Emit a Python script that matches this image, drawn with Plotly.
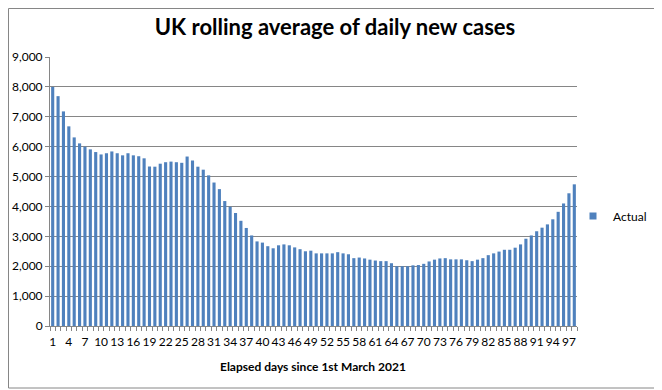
import plotly.graph_objects as go

days = list(range(1, 99))
cases = [8000, 7690, 7180, 6680, 6310, 6110, 6000, 5910, 5820, 5740,
         5780, 5840, 5780, 5710, 5780, 5710, 5680, 5610, 5340, 5330,
         5430, 5480, 5500, 5480, 5460, 5670, 5540, 5330, 5230, 5040,
         4800, 4580, 4180, 3990, 3780, 3520, 3280, 3030, 2830, 2790,
         2670, 2600, 2700, 2730, 2700, 2630, 2570, 2500, 2520, 2430,
         2430, 2430, 2430, 2470, 2430, 2400, 2270, 2290, 2260, 2220,
         2190, 2170, 2170, 2100, 2000, 2000, 2000, 2030, 2040, 2080,
         2160, 2220, 2260, 2270, 2230, 2230, 2230, 2200, 2170, 2220,
         2270, 2370, 2430, 2490, 2550, 2550, 2620, 2730, 2920, 3030,
         3170, 3290, 3400, 3570, 3820, 4100, 4440, 4740]
tick_days = list(range(1, 98, 3))
y_ticks = list(range(0, 9001, 1000))

# page body has an 8px margin; work in figure coordinates = picture - 8
OFF = 8
W, H = 662 - OFF, 390 - OFF
L = 50 - OFF
T = 57 - OFF
R = W - (577 - OFF)
B = H - (326 - OFF)
pw, ph = W - L - R, H - T - B

def px(xpic):
    return (xpic - OFF - L) / pw

def py(ypic):
    return (H - B - (ypic - OFF)) / ph

BLUE = "#4F81BD"
GRID = "#868686"
FONT = "Lato, 'Open Sans', sans-serif"

fig = go.Figure()
fig.add_trace(go.Bar(x=days, y=cases, name="Actual", marker_color=BLUE,
                     marker_line_width=0, showlegend=False))
fig.add_trace(go.Scatter(x=[None], y=[None], mode="markers", name="Actual",
                         marker=dict(symbol="square", size=7, color=BLUE),
                         showlegend=True))

fig.update_layout(
    width=W, height=H,
    margin=dict(l=L, r=R, t=T, b=B, autoexpand=False),
    paper_bgcolor="white", plot_bgcolor="white",
    bargap=0.42,
    font=dict(family=FONT, size=12, color="black"),
    title=dict(text="<b>UK rolling average of daily new cases</b>",
               x=0.5, xanchor="center", y=1 - (27 - OFF) / H, yanchor="middle",
               font=dict(size=22, family=FONT, color="black")),
    showlegend=True,
    legend=dict(x=px(613 - 40), y=py(216), xanchor="left", yanchor="middle",
                font=dict(size=12), itemwidth=30, bgcolor="rgba(0,0,0,0)"),
)
fig.update_xaxes(
    range=[0.5, 98.5], tickmode="array", tickvals=tick_days,
    ticktext=[str(d) for d in tick_days], ticks="", showgrid=False,
    showline=True, linecolor=GRID, linewidth=1,
    tickfont=dict(size=12), ticklabelstandoff=5,
    minor=dict(tickmode="array", tickvals=[d + 0.5 for d in [0] + days],
               ticks="outside", ticklen=4, tickcolor=GRID, showgrid=False),
)
fig.update_yaxes(
    range=[0, 9000], tickmode="array", tickvals=y_ticks,
    ticktext=[f"{v:,}" for v in y_ticks],
    showgrid=True, gridcolor=GRID, gridwidth=1,
    showline=True, linecolor=GRID, linewidth=1,
    ticks="outside", ticklen=4, tickcolor=GRID,
    tickfont=dict(size=12), zeroline=False,
)
fig.add_annotation(text="<b>Elapsed days since 1st March 2021</b>",
                   xref="paper", yref="paper", x=px(313), y=py(366),
                   xanchor="center", yanchor="middle",
                   showarrow=False, font=dict(size=12, color="black"))
fig.add_shape(type="rect", xref="paper", yref="paper",
              x0=px(OFF + 0.5), x1=px(660), y0=py(388), y1=py(OFF + 0.5),
              line=dict(color=GRID, width=1), fillcolor="rgba(0,0,0,0)",
              layer="below")

fig.write_html("out.html")
